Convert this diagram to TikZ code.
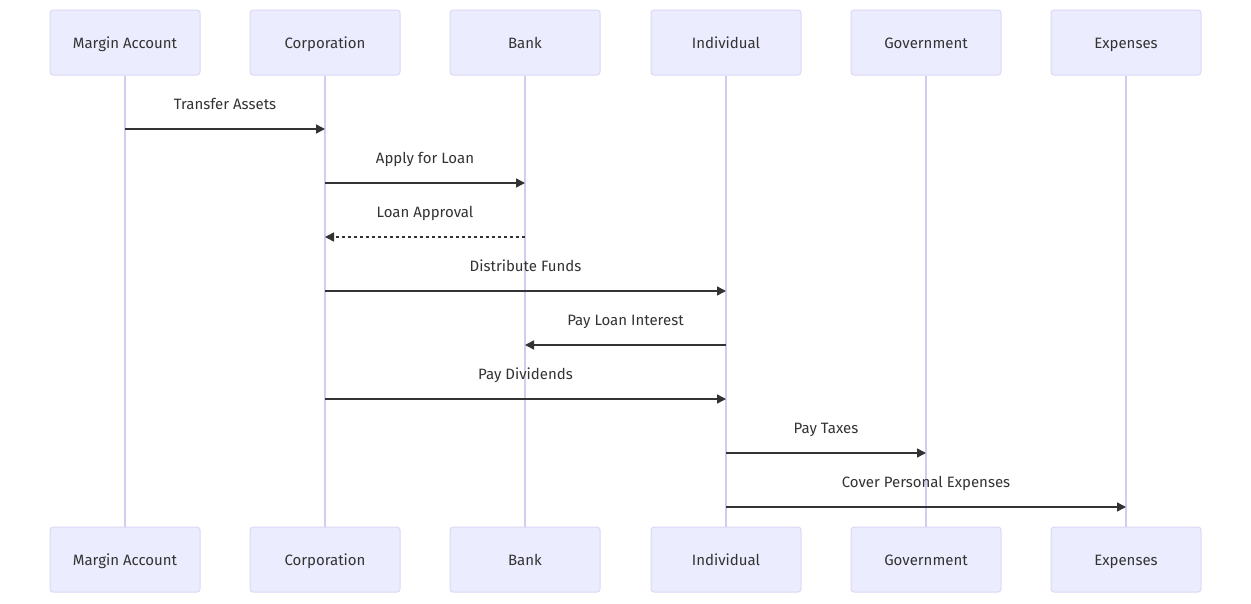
\documentclass[tikz,border=0pt]{standalone}
\usepackage{fontspec}
\setmainfont{Fira Sans}
\usetikzlibrary{arrows.meta}
\definecolor{actorfill}{HTML}{ECECFF}
\definecolor{actorline}{HTML}{DCD7F5}
\definecolor{lifecol}{HTML}{D3CCF2}
\definecolor{msgcol}{HTML}{333333}
\begin{document}
\begin{tikzpicture}[x=1pt,y=-1pt,
  actor/.style={draw=actorline,fill=actorfill,line width=1pt,rounded corners=3pt,
    minimum width=150pt,minimum height=65pt,text=msgcol,
    font=\fontsize{15}{17}\selectfont,text height=14.5pt,text depth=3pt},
  lifeline/.style={draw=lifecol,line width=1.5pt},
  msg/.style={draw=msgcol,line width=1.5pt,-{Triangle[length=9pt,width=9pt]}},
  reply/.style={msg,dash pattern=on 3pt off 3pt},
  lbl/.style={text=msgcol,font=\fontsize{15}{17}\selectfont,
    text height=10.5pt,text depth=3pt,yshift=23pt}]
\useasboundingbox[fill=white] (0,0) rectangle (1251,603);
% participants, top and bottom
\foreach \n/\x/\t in {ma/125/Margin Account,corp/325/Corporation,bank/525/Bank,
  ind/726/Individual,gov/926/Government,exp/1126/Expenses}
{
  \node[actor] (\n) at (\x,42.5) {\t};
  \node[actor] (\n b) at (\x,559.5) {\t};
  \draw[lifeline] (\n) -- (\n b);
}
% messages
\draw[msg] (ma |- 0,129) -- node[lbl] {Transfer Assets} (corp |- 0,129);
\draw[msg] (corp |- 0,183) -- node[lbl] {Apply for Loan} (bank |- 0,183);
\draw[reply] (bank |- 0,237) -- node[lbl] {Loan Approval} (corp |- 0,237);
\draw[msg] (corp |- 0,291) -- node[lbl] {Distribute Funds} (ind |- 0,291);
\draw[msg] (ind |- 0,345) -- node[lbl] {Pay Loan Interest} (bank |- 0,345);
\draw[msg] (corp |- 0,399) -- node[lbl] {Pay Dividends} (ind |- 0,399);
\draw[msg] (ind |- 0,453) -- node[lbl] {Pay Taxes} (gov |- 0,453);
\draw[msg] (ind |- 0,507) -- node[lbl] {Cover Personal Expenses} (exp |- 0,507);
\end{tikzpicture}
\end{document}
